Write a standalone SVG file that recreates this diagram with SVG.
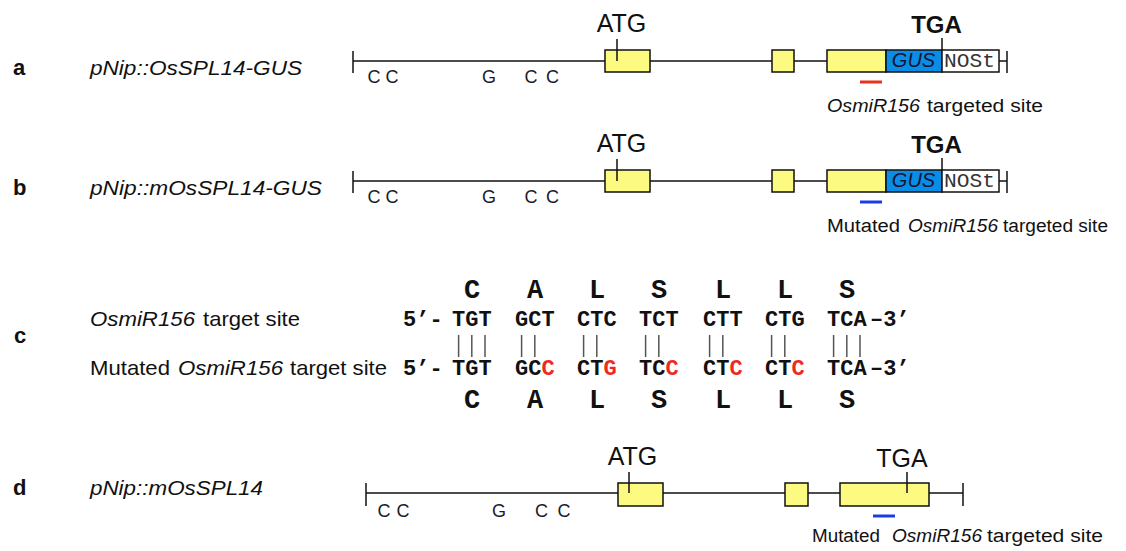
<svg xmlns="http://www.w3.org/2000/svg" width="1126" height="551" viewBox="0 0 1126 551">
<style>
.ln{stroke:#111;stroke-width:1.5;fill:none}
.exon{fill:#fcfa80;stroke:#111;stroke-width:1.5}
.gus{fill:#0a8de6;stroke:#111;stroke-width:1.5}
.nos{fill:#fff;stroke:#111;stroke-width:1.5}
.lbl{font-family:"Liberation Sans",Arial,sans-serif;font-size:21px;fill:#111}
.pl{font-family:"Liberation Sans",Arial,sans-serif;font-size:22px;font-weight:bold;fill:#111}
.it{font-style:italic}
.site{font-family:"Liberation Sans",Arial,sans-serif;font-size:18px;fill:#111}
.nt{font-family:"Liberation Sans",Arial,sans-serif;font-size:18px;fill:#1a1a2a;text-anchor:middle}
.cod{font-family:"Liberation Sans",Arial,sans-serif;font-size:25px;fill:#111;text-anchor:middle}
.mono{font-family:"Liberation Mono","Courier New",monospace;font-size:22px;font-weight:bold;fill:#111}
.aa{font-family:"Liberation Mono","Courier New",monospace;font-size:27px;font-weight:bold;fill:#111;text-anchor:middle}
.red{fill:#f0281e}
.pipe{stroke:#555;stroke-width:1.5}
</style>

<g id="labels">
<text class="pl" x="13" y="75">a</text>
<text class="pl" x="13" y="195">b</text>
<text class="pl" x="14" y="343">c</text>
<text class="pl" x="13" y="495">d</text>
<text class="lbl it" x="90" y="75" textLength="212" lengthAdjust="spacingAndGlyphs">pNip::OsSPL14-GUS</text>
<text class="lbl it" x="90" y="195" textLength="232" lengthAdjust="spacingAndGlyphs">pNip::mOsSPL14-GUS</text>
<text class="lbl it" x="90" y="495" textLength="173" lengthAdjust="spacingAndGlyphs">pNip::mOsSPL14</text>
</g>

<g id="panel-a">
<line class="ln" x1="353" y1="61" x2="1007" y2="61"/>
<line class="ln" x1="353" y1="51" x2="353" y2="73"/>
<line class="ln" x1="1007" y1="51" x2="1007" y2="73"/>
<rect class="exon" x="605" y="50" width="45" height="22"/>
<line class="ln" x1="617" y1="39" x2="617" y2="61"/>
<text class="cod" x="621.5" y="32">ATG</text>
<rect class="exon" x="772" y="50" width="22" height="22"/>
<rect class="exon" x="827" y="50" width="59" height="22"/>
<rect class="gus" x="886" y="50" width="56" height="22"/>
<rect class="nos" x="942" y="50" width="57" height="22"/>
<line class="ln" x1="942" y1="38" x2="942" y2="50"/>
<text class="cod" x="936.5" y="33" font-weight="bold" style="font-size:24px">TGA</text>
<text class="site it" x="913.5" y="67" text-anchor="middle" style="font-size:20px;fill:#141433">GUS</text>
<text x="944" y="67" style="font-family:'Liberation Mono','Courier New',monospace;font-size:20px;fill:#333" textLength="51" lengthAdjust="spacingAndGlyphs">NOSt</text>
<line x1="860" y1="82" x2="882" y2="82" stroke="#e8321e" stroke-width="3"/>
<text class="nt" x="374" y="83">C</text><text class="nt" x="392" y="83">C</text>
<text class="nt" x="489" y="83">G</text>
<text class="nt" x="531" y="83">C</text><text class="nt" x="552.5" y="83">C</text>
<text class="site it" x="827" y="112" textLength="93" lengthAdjust="spacingAndGlyphs">OsmiR156</text>
<text class="site" x="927" y="112" textLength="116" lengthAdjust="spacingAndGlyphs">targeted site</text>
</g>

<g id="panel-b">
<line class="ln" x1="353" y1="181" x2="1007" y2="181"/>
<line class="ln" x1="353" y1="171" x2="353" y2="193"/>
<line class="ln" x1="1007" y1="171" x2="1007" y2="193"/>
<rect class="exon" x="605" y="170" width="45" height="22"/>
<line class="ln" x1="617" y1="159" x2="617" y2="181"/>
<text class="cod" x="621.5" y="152">ATG</text>
<rect class="exon" x="772" y="170" width="22" height="22"/>
<rect class="exon" x="827" y="170" width="59" height="22"/>
<rect class="gus" x="886" y="170" width="56" height="22"/>
<rect class="nos" x="942" y="170" width="57" height="22"/>
<line class="ln" x1="942" y1="158" x2="942" y2="170"/>
<text class="cod" x="936.5" y="153" font-weight="bold" style="font-size:24px">TGA</text>
<text class="site it" x="913.5" y="187" text-anchor="middle" style="font-size:20px;fill:#141433">GUS</text>
<text x="944" y="187" style="font-family:'Liberation Mono','Courier New',monospace;font-size:20px;fill:#333" textLength="51" lengthAdjust="spacingAndGlyphs">NOSt</text>
<line x1="860" y1="202" x2="882" y2="202" stroke="#1a3ce8" stroke-width="3"/>
<text class="nt" x="374" y="203">C</text><text class="nt" x="392" y="203">C</text>
<text class="nt" x="489" y="203">G</text>
<text class="nt" x="531" y="203">C</text><text class="nt" x="552.5" y="203">C</text>
<text class="site" x="827" y="232" textLength="73" lengthAdjust="spacingAndGlyphs">Mutated</text>
<text class="site it" x="908" y="232" textLength="90" lengthAdjust="spacingAndGlyphs">OsmiR156</text>
<text class="site" x="1003" y="232" textLength="105" lengthAdjust="spacingAndGlyphs">targeted site</text>
</g>

<g id="panel-c">
<text class="lbl it" x="90" y="326" textLength="105" lengthAdjust="spacingAndGlyphs">OsmiR156</text>
<text class="lbl" x="203" y="326" textLength="97" lengthAdjust="spacingAndGlyphs">target site</text>
<text class="lbl" x="90" y="375" textLength="80" lengthAdjust="spacingAndGlyphs">Mutated</text>
<text class="lbl it" x="178" y="375" textLength="105" lengthAdjust="spacingAndGlyphs">OsmiR156</text>
<text class="lbl" x="290" y="375" textLength="97" lengthAdjust="spacingAndGlyphs">target site</text>

<text class="aa" x="472" y="298">C</text>
<text class="aa" x="535" y="298">A</text>
<text class="aa" x="597" y="298">L</text>
<text class="aa" x="659" y="298">S</text>
<text class="aa" x="723" y="298">L</text>
<text class="aa" x="785" y="298">L</text>
<text class="aa" x="847" y="298">S</text>

<text class="mono" x="403" y="326">5’-</text>
<text class="mono" x="452" y="326">TGT</text>
<text class="mono" x="515" y="326">GCT</text>
<text class="mono" x="577" y="326">CTC</text>
<text class="mono" x="639" y="326">TCT</text>
<text class="mono" x="703" y="326">CTT</text>
<text class="mono" x="765" y="326">CTG</text>
<text class="mono" x="827" y="326">TCA</text>
<text class="mono" x="870" y="326">–3’</text>

<g id="pairs">
<line class="pipe" x1="458.6" y1="335" x2="458.6" y2="357"/>
<line class="pipe" x1="471.8" y1="335" x2="471.8" y2="357"/>
<line class="pipe" x1="485" y1="335" x2="485" y2="357"/>
<line class="pipe" x1="521.6" y1="335" x2="521.6" y2="357"/>
<line class="pipe" x1="534.8" y1="335" x2="534.8" y2="357"/>
<line class="pipe" x1="583.6" y1="335" x2="583.6" y2="357"/>
<line class="pipe" x1="596.8" y1="335" x2="596.8" y2="357"/>
<line class="pipe" x1="645.6" y1="335" x2="645.6" y2="357"/>
<line class="pipe" x1="658.8" y1="335" x2="658.8" y2="357"/>
<line class="pipe" x1="709.6" y1="335" x2="709.6" y2="357"/>
<line class="pipe" x1="722.8" y1="335" x2="722.8" y2="357"/>
<line class="pipe" x1="771.6" y1="335" x2="771.6" y2="357"/>
<line class="pipe" x1="784.8" y1="335" x2="784.8" y2="357"/>
<line class="pipe" x1="833.6" y1="335" x2="833.6" y2="357"/>
<line class="pipe" x1="846.8" y1="335" x2="846.8" y2="357"/>
<line class="pipe" x1="860" y1="335" x2="860" y2="357"/>
</g>

<text class="mono" x="403" y="375">5’-</text>
<text class="mono" x="452" y="375">TGT</text>
<text class="mono" x="515" y="375">GC<tspan class="red">C</tspan></text>
<text class="mono" x="577" y="375">CT<tspan class="red">G</tspan></text>
<text class="mono" x="639" y="375">TC<tspan class="red">C</tspan></text>
<text class="mono" x="703" y="375">CT<tspan class="red">C</tspan></text>
<text class="mono" x="765" y="375">CT<tspan class="red">C</tspan></text>
<text class="mono" x="827" y="375">TCA</text>
<text class="mono" x="870" y="375">–3’</text>

<text class="aa" x="472" y="408">C</text>
<text class="aa" x="535" y="408">A</text>
<text class="aa" x="597" y="408">L</text>
<text class="aa" x="659" y="408">S</text>
<text class="aa" x="723" y="408">L</text>
<text class="aa" x="785" y="408">L</text>
<text class="aa" x="847" y="408">S</text>
</g>

<g id="panel-d">
<line class="ln" x1="366" y1="493" x2="963" y2="493"/>
<line class="ln" x1="366" y1="483" x2="366" y2="506"/>
<line class="ln" x1="963" y1="483" x2="963" y2="506"/>
<rect class="exon" x="618" y="483" width="45" height="23"/>
<line class="ln" x1="629" y1="472" x2="629" y2="493"/>
<text class="cod" x="632.5" y="465">ATG</text>
<rect class="exon" x="785" y="483" width="23" height="23"/>
<rect class="exon" x="840" y="483" width="89" height="23"/>
<line class="ln" x1="907" y1="472" x2="907" y2="493"/>
<text class="cod" x="902" y="467">TGA</text>
<line x1="873" y1="516" x2="895" y2="516" stroke="#1a3ce8" stroke-width="3"/>
<text class="nt" x="384" y="517">C</text><text class="nt" x="403" y="517">C</text>
<text class="nt" x="499" y="517">G</text>
<text class="nt" x="541.5" y="517">C</text><text class="nt" x="564" y="517">C</text>
<text class="site" x="812" y="542" textLength="68" lengthAdjust="spacingAndGlyphs">Mutated</text>
<text class="site it" x="892" y="542" textLength="90" lengthAdjust="spacingAndGlyphs">OsmiR156</text>
<text class="site" x="987" y="542" textLength="116" lengthAdjust="spacingAndGlyphs">targeted site</text>
</g>
</svg>
